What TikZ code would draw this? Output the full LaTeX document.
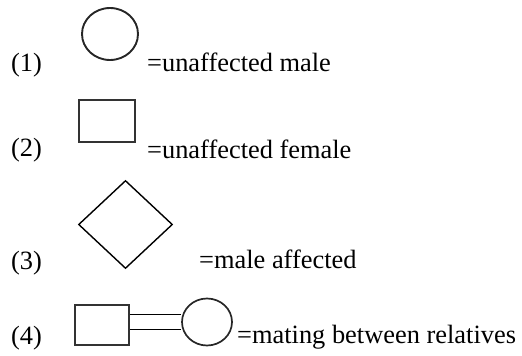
\documentclass[tikz,border=0pt]{standalone}
\usepackage{fontspec}
\setmainfont{Liberation Serif}
\usetikzlibrary{shapes.geometric, backgrounds}
\tikzset{
	symbolring/.style={
		ellipse, draw=black!85, line width=1.9pt,
		inner sep=0pt
	},
	symbolbox/.style={
		rectangle, draw=black!80, line width=1.9pt,
		inner sep=0pt
	},
	symboldiamond/.style={
		diamond, draw=black, line width=1.4pt,
		inner sep=0pt, minimum width=94pt, minimum height=88pt
	},
	itemtext/.style={
		anchor=base west, inner sep=0pt,
		font=\fontsize{26.4}{30}\selectfont
	},
	kinline/.style={
		double, double distance=13.6pt, line width=1.4pt, draw=black
	}
}
\begin{document}
\begin{tikzpicture}[x=1pt, y=-1pt]
		\useasboundingbox (0,0) rectangle (522,356);
		
		%% ═══════════════════════════════
		%%  ROW 1 — unaffected male
		%% ═══════════════════════════════
		\node[itemtext] (num1) at (11,71)  {(1)};
		\node[symbolring, minimum width=56pt, minimum height=52pt] (male) at (110,34) {};
		\node[itemtext] (txt1) at (147,71) {=unaffected male};
		
		%% ═══════════════════════════════
		%%  ROW 2 — unaffected female
		%% ═══════════════════════════════
		\node[itemtext] (num2) at (11,156) {(2)};
		\node[symbolbox, minimum width=56pt, minimum height=42pt] (female) at (107,121) {};
		\node[itemtext] (txt2) at (147,158) {=unaffected female};
		
		%% ═══════════════════════════════
		%%  ROW 3 — male affected
		%% ═══════════════════════════════
		\node[itemtext] (num3) at (11,269) {(3)};
		\node[symboldiamond] (affected) at (125.5,224.5) {};
		\node[itemtext] (txt3) at (199,268) {=male affected};
		
		%% ═══════════════════════════════
		%%  ROW 4 — mating between relatives
		%% ═══════════════════════════════
		\node[itemtext] (num4) at (11,344) {(4)};
		\node[symbolbox, line width=1.7pt, minimum width=54pt, minimum height=40pt] (relA) at (102,325) {};
		\node[symbolring, line width=1.7pt, minimum width=50pt, minimum height=47pt] (relB) at (207,322) {};
		\node[itemtext] (txt4) at (237,343) {=mating between relatives};
		
		% double line between relatives
		\begin{scope}[on background layer]
			\draw[kinline] (relB.west -| relA.east) -- (relB.west);
		\end{scope}
	\end{tikzpicture}
\end{document}
